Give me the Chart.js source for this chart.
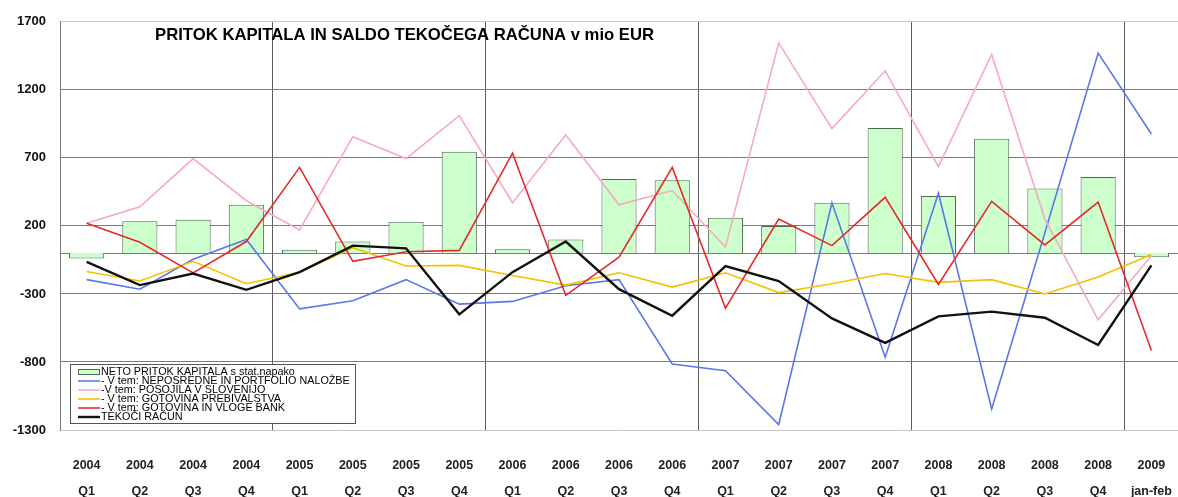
<!DOCTYPE html>
<html>
<head>
<meta charset="utf-8">
<script src="https://cdn.jsdelivr.net/npm/chart.js@4.4.1/dist/chart.umd.min.js"></script>
<style>
  html, body { margin: 0; padding: 0; background: #fff; overflow: hidden; }
  #wrap { position: relative; width: 1178px; height: 506px; }
</style>
</head>
<body>
<div id="wrap"><canvas id="chart"></canvas></div>
<script>
// --- data (mio EUR) ---
const categories = [
    ['2004', 'Q1'], ['2004', 'Q2'], ['2004', 'Q3'], ['2004', 'Q4'],
    ['2005', 'Q1'], ['2005', 'Q2'], ['2005', 'Q3'], ['2005', 'Q4'],
    ['2006', 'Q1'], ['2006', 'Q2'], ['2006', 'Q3'], ['2006', 'Q4'],
    ['2007', 'Q1'], ['2007', 'Q2'], ['2007', 'Q3'], ['2007', 'Q4'],
    ['2008', 'Q1'], ['2008', 'Q2'], ['2008', 'Q3'], ['2008', 'Q4'],
    ['2009', 'jan-feb']
];
const netoPritok   = [-40, 235, 245, 355, 25, 85, 230, 745, 28, 100, 545, 535, 260, 200, 370, 920, 420, 840, 475, 560, -30];
const nalozbe      = [-195, -265, -45, 100, -410, -350, -195, -375, -355, -240, -195, -815, -865, -1260, 370, -765, 440, -1145, 150, 1470, 875];
const posojila     = [220, 340, 695, 385, 170, 855, 695, 1010, 370, 870, 355, 460, 45, 1545, 915, 1340, 635, 1460, 250, -490, -20];
const prebivalstvo = [-135, -205, -60, -225, -140, 40, -95, -90, -165, -235, -145, -250, -145, -290, -225, -150, -215, -195, -300, -175, -10];
const banke        = [220, 80, -145, 85, 630, -60, 10, 20, 735, -310, -30, 630, -405, 250, 55, 410, -230, 380, 60, 375, -715];
const tekociRacun  = [-65, -235, -150, -270, -140, 55, 35, -450, -140, 85, -265, -460, -95, -205, -480, -660, -465, -430, -475, -675, -90];
const yTicks = [-1300, -800, -300, 200, 700, 1200, 1700];

const chartTitle = 'PRITOK KAPITALA IN SALDO TEKOČEGA RAČUNA v mio EUR';
const FONT = '"Liberation Sans", Arial, sans-serif';

function lineSet(label, data, color, width, order) {
    return {
        type: 'line', label, data, order,
        borderColor: color, backgroundColor: color,
        borderWidth: width, tension: 0,
        pointRadius: 0, pointHoverRadius: 0, fill: false
    };
}

// zero line, title and in-plot legend
const overlay = {
    id: 'overlay',
    beforeDatasetsDraw(chart) {
        const { ctx, chartArea, scales } = chart;
        const y0 = Math.round(scales.y.getPixelForValue(0)) + 0.5;
        ctx.save();
        ctx.strokeStyle = '#7a7a7a';
        ctx.lineWidth = 1;
        ctx.beginPath();
        ctx.moveTo(chartArea.left, y0);
        ctx.lineTo(chartArea.right, y0);
        ctx.stroke();
        ctx.restore();
    },
    afterDraw(chart) {
        const { ctx, chartArea } = chart;
        ctx.save();
        // title
        ctx.fillStyle = '#000';
        ctx.font = 'bold 16.7px ' + FONT;
        ctx.textBaseline = 'middle';
        ctx.fillText(chartTitle, chartArea.left + 95, chartArea.top + 14);

        // legend box
        const bx = chartArea.left + 10, by = chartArea.bottom - 66;
        const bw = 285, bh = 59;
        ctx.fillStyle = '#fff';
        ctx.fillRect(bx, by, bw, bh);
        ctx.strokeStyle = '#555';
        ctx.lineWidth = 1;
        ctx.strokeRect(bx + 0.5, by + 0.5, bw, bh);

        ctx.font = '10.8px ' + FONT;
        chart.data.datasets.forEach((ds, i) => {
            const cy = by + 8 + i * 9;
            if (ds.type === 'bar') {
                ctx.fillStyle = ds.backgroundColor;
                ctx.fillRect(bx + 8, cy - 3, 21, 6);
                ctx.strokeStyle = ds.borderColor;
                ctx.lineWidth = 1;
                ctx.strokeRect(bx + 8.5, cy - 2.5, 21, 5);
            } else {
                ctx.strokeStyle = ds.borderColor;
                ctx.lineWidth = ds.borderWidth;
                ctx.beginPath();
                ctx.moveTo(bx + 8, cy);
                ctx.lineTo(bx + 30, cy);
                ctx.stroke();
            }
            ctx.fillStyle = '#000';
            ctx.fillText(ds.label, bx + 31, cy);
        });
        ctx.restore();
    }
};

new Chart(document.getElementById('chart'), {
    data: {
        labels: categories,
        datasets: [
            {
                type: 'bar', label: 'NETO PRITOK KAPITALA s stat.napako', data: netoPritok, order: 10,
                backgroundColor: '#ccffcc', borderColor: '#4f6a4f', borderWidth: 1,
                categoryPercentage: 1, barPercentage: 0.66
            },
            lineSet('- V tem: NEPOSREDNE IN PORTFOLIO NALOŽBE', nalozbe, '#5a78e6', 1.6, 5),
            lineSet('-V tem: POSOJILA V SLOVENIJO', posojila, '#f5a9c2', 1.6, 4),
            lineSet('- V tem: GOTOVINA PREBIVALSTVA', prebivalstvo, '#f2c200', 1.6, 3),
            lineSet('- V tem: GOTOVINA IN VLOGE BANK', banke, '#e52a2a', 1.6, 2),
            lineSet('TEKOČI RAČUN', tekociRacun, '#111111', 2.4, 1)
        ]
    },
    options: {
        responsive: true,
        maintainAspectRatio: false,
        animation: false,
        layout: { padding: { top: 6, left: 8, right: 0, bottom: 0 } },
        plugins: {
            legend: { display: false },
            tooltip: { enabled: false },
            title: { display: false }
        },
        scales: {
            x: {
                offset: true,
                afterFit: axis => {
                    axis.height = 76;
                    axis.paddingLeft = 0;
                    axis.paddingRight = 0;
                },
                grid: {
                    offset: true,
                    drawTicks: false,
                    color: c => (c.index > 0 && c.index % 4 === 0) ? '#5e5e5e' : 'rgba(0,0,0,0)'
                },
                border: { display: false },
                ticks: {
                    autoSkip: false, maxRotation: 0, padding: 23,
                    color: '#222',
                    font: { family: FONT, size: 12.5, weight: 'bold', lineHeight: 2.08 }
                }
            },
            y: {
                min: -1300, max: 1700,
                afterBuildTicks: axis => { axis.ticks = yTicks.map(v => ({ value: v })); },
                afterFit: axis => { axis.width = 52; },
                grid: {
                    drawTicks: false,
                    color: c => (c.tick && (c.tick.value === 1700 || c.tick.value === -1300)) ? '#c8c8c8' : '#7a7a7a'
                },
                border: { display: true, color: '#7a7a7a' },
                ticks: {
                    padding: 14,
                    color: '#111',
                    callback: v => String(v),
                    font: { family: FONT, size: 13, weight: 'bold' }
                }
            }
        }
    },
    plugins: [overlay]
});
</script>
</body>
</html>
